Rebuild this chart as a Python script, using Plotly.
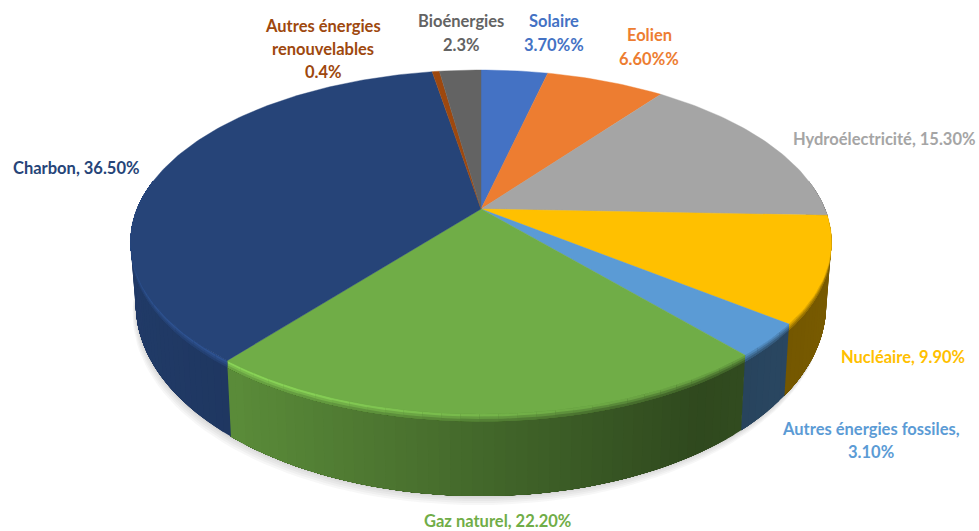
import numpy as np
import plotly.graph_objects as go

# ---- data ----
categories = ["Solaire", "Eolien", "Hydroélectricité", "Nucléaire", "Autres énergies fossiles",
              "Gaz naturel", "Charbon", "Autres énergies renouvelables", "Bioénergies"]
values = [3.7, 6.6, 15.3, 9.9, 3.1, 22.2, 36.5, 0.4, 2.3]
colors = ["#4472c4", "#ed7d31", "#a5a5a5", "#ffc000", "#5b9bd5", "#70ad47", "#264478", "#9e480e", "#636363"]
label_lines = [["Solaire", "3.70%%"], ["Eolien", "6.60%%"], ["Hydroélectricité, 15.30%"],
               ["Nucléaire, 9.90%"], ["Autres énergies fossiles,", "3.10%"], ["Gaz naturel, 22.20%"],
               ["Charbon, 36.50%"], ["Autres énergies", "renouvelables", "0.4%"], ["Bioénergies", "2.3%"]]

# ---- label placement (pixel frame of the axes): centre x, y of each line ----
label_pos = [(554, [21, 45]), (649, [35, 59]), (884, [139]), (903, [357]), (871, [429, 452]),
             (497, [521]), (76, [168]), (323, [26, 49, 72]), (461, [21, 45])]

# ---- tilted-disc projection ----
CX, CY, R, S, A = 481.0, 209.0, 344.0, 165.7, 0.192
K_Y, D0, K_X = 1.115, 58.4, 0.985


def top(theta):
    X, Y = np.sin(theta), np.cos(theta)
    w = 1 + A * Y
    return CX + R * X / w, CY - S * Y / w


def at_depth(theta, t):
    """t=0 top rim, t=1 bottom rim"""
    x, y = top(theta)
    xb = CX + (x - CX) * K_X
    yb = CY + (y - CY) * K_Y + D0
    return x + (xb - x) * t, y + (yb - y) * t


def rgb(h):
    return np.array([int(h[i:i + 2], 16) for i in (1, 3, 5)], float)


def css(c):
    c = np.clip(c, 0, 255).round().astype(int)
    return f"rgb({c[0]},{c[1]},{c[2]})"


def wall_f(x):
    return np.interp(x, [130, 240, 480, 700, 830], [0.86, 0.8, 0.6, 0.42, 0.47])


def rim_f(x):
    return np.interp(x, [130, 300, 480, 620, 830], [1.25, 1.2, 1.05, 0.95, 0.85])


fig = go.Figure()


def poly(x, y, color, width=0.0):
    x, y = list(x), list(y)
    fig.add_trace(go.Scatter(x=x + [x[0]], y=y + [y[0]], mode="lines", fill="toself",
                             fillcolor=color, line=dict(color=color, width=width),
                             hoverinfo="skip", showlegend=False))


def band(th, t0, t1, color):
    """wall band from depth t0 to t1 along the angles th"""
    xa, ya = at_depth(th, t0)
    xb, yb = at_depth(th[::-1], t1)
    poly(np.concatenate([xa, xb]), np.concatenate([ya, yb]), color)


# soft shadow under the disc
full = np.linspace(0, 2 * np.pi, 181)
for off in (9, 7, 5, 3, 1.5):
    bx, by = at_depth(full, 1)
    poly(bx - off * 0.35, by + off, "rgba(90,90,90,0.05)")

# slice boundaries
edges = np.cumsum([0] + values) / sum(values) * 2 * np.pi

# side walls: each column reaches to the slice's end and the next one paints over it, so no seams show
lo, hi = np.radians(80), np.radians(280)
rim_layers = [(.09, .66), (.06, .33), (.03, .0)]
for i, color in enumerate(colors):
    a, b = max(edges[i], lo), min(edges[i + 1], hi)
    if b <= a:
        continue
    n = max(1, int(np.degrees(b - a) / 1.5))
    th = np.linspace(a, b, n + 1)
    base = rgb(color)
    for j in range(n):
        arc = np.append(np.linspace(th[j], b, 2 + int(np.degrees(b - th[j]) / 2)), [])
        mx = top((th[j] + th[j + 1]) / 2)[0]
        band(arc, 0.0, 1.0, css(base * wall_f(mx)))
    nr = max(1, int(np.degrees(b - a) / 2.5))
    thr = np.linspace(a, b, nr + 1)
    for j in range(nr):
        arc = np.linspace(thr[j], b, 2 + int(np.degrees(b - thr[j]) / 2))
        mx = top((thr[j] + thr[j + 1]) / 2)[0]
        wc = base * wall_f(mx)
        rc = base * (1.2 if color == "#264478" else rim_f(mx))
        for t1, mix in rim_layers:
            band(arc, 0.0, t1, css(rc + (wc - rc) * mix))

# top faces
for i, color in enumerate(colors):
    n = max(4, int(np.degrees(edges[i + 1] - edges[i])))
    th = np.linspace(edges[i], edges[i + 1], n + 1)
    x, y = top(th)
    poly([CX] + list(x), [CY] + list(y), color, 0.4)

# labels
annotations = []
for lines, color, (lx, lys) in zip(label_lines, colors, label_pos):
    for text, ly in zip(lines, lys):
        annotations.append(dict(x=lx, y=ly, text=text, showarrow=False, xanchor="center", yanchor="middle",
                                font=dict(family="Lato", size=16.5, color=color, weight="bold")))

fig.update_layout(
    width=979, height=531, margin=dict(l=0, r=0, t=0, b=0),
    paper_bgcolor="white", plot_bgcolor="white", showlegend=False,
    xaxis=dict(range=[0, 979], visible=False, fixedrange=True),
    yaxis=dict(range=[531, 0], visible=False, fixedrange=True),
    annotations=annotations,
)
fig.write_html("out.html", config=dict(displayModeBar=False), default_width="979px", default_height="531px",
               post_script="document.body.style.margin='0';document.documentElement.style.overflow='hidden';")
